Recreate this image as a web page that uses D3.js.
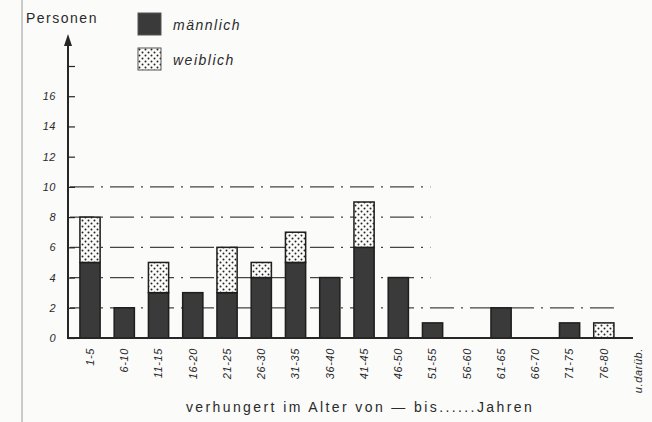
<!DOCTYPE html>
<html>
<head>
<meta charset="utf-8">
<script src="https://cdn.jsdelivr.net/npm/d3@7"></script>
<style>
  body { margin: 0; background: #fbfbfa; }
  svg { display: block; }
  text { fill: #2a2a2a; }
</style>
</head>
<body>
<div id="chart"></div>
<script>
// Altersgruppen
var categories = ["1-5", "6-10", "11-15", "16-20", "21-25", "26-30", "31-35", "36-40",
    "41-45", "46-50", "51-55", "56-60", "61-65", "66-70", "71-75", "76-80", "u.darüb."];
var maennlich = [5, 2, 3, 3, 3, 4, 5, 4, 6, 4, 1, 0, 2, 0, 1, 0, 0];
var weiblich  = [3, 0, 2, 0, 3, 1, 2, 0, 3, 0, 0, 0, 0, 0, 0, 1, 0];
var yTicks = [0, 2, 4, 6, 8, 10, 12, 14, 16, 18];
// gestrichelte Hilfslinien: Wert und Kategorie, bei der sie enden
var gridValues = [2, 4, 6, 8, 10];
var gridEnds   = ["76-80", "51-55", "51-55", "51-55", "51-55"];

var width = 652, height = 422;
var ink = "#262626";
var font = "Liberation Sans, Arial, sans-serif";

var svg = d3.select("#chart").append("svg")
    .attr("width", width)
    .attr("height", height);

// Punktmuster für weiblich
var defs = svg.append("defs");
var pat = defs.append("pattern")
    .attr("id", "dots")
    .attr("patternUnits", "userSpaceOnUse")
    .attr("width", 6).attr("height", 6);
pat.append("rect").attr("width", 6).attr("height", 6).attr("fill", "#fbfbfa");
pat.append("circle").attr("cx", 1.5).attr("cy", 1.5).attr("r", 1).attr("fill", ink);
pat.append("circle").attr("cx", 4.5).attr("cy", 4.5).attr("r", 1).attr("fill", ink);

var x = d3.scaleBand()
    .domain(categories)
    .range([72.9, 655.2])
    .paddingInner(0.41)
    .paddingOuter(0.205);

var y = d3.scaleLinear()
    .domain([0, 18])
    .range([338, 66]);

// Rand des Scans
svg.append("line")
    .attr("x1", 22).attr("x2", 22)
    .attr("y1", 0).attr("y2", height)
    .attr("stroke", "#9a9a9a").attr("stroke-width", 1);

// Hilfslinien
svg.append("g").selectAll("line")
    .data(gridValues)
    .enter().append("line")
    .attr("x1", 70)
    .attr("x2", function (d, i) {
        return gridEnds[i] === "76-80" ? x(gridEnds[i]) + x.bandwidth() : x(gridEnds[i]) + 8;
    })
    .attr("y1", function (d) {return y(d);})
    .attr("y2", function (d) {return y(d);})
    .attr("stroke", "#444")
    .attr("stroke-width", 1.3)
    .attr("stroke-dasharray", "24,7,2,7");

var rows = categories.map(function (c, i) {return {cat: c, m: maennlich[i], w: weiblich[i]};});

// männlich
svg.append("g").selectAll("rect")
    .data(rows.filter(function (d) {return d.m > 0;}))
    .enter().append("rect")
    .attr("x", function (d) {return x(d.cat);})
    .attr("y", function (d) {return y(d.m);})
    .attr("width", x.bandwidth())
    .attr("height", function (d) {return y(0) - y(d.m);})
    .attr("fill", "#3a3a3a")
    .attr("stroke", "#1e1e1e")
    .attr("stroke-width", 1.5);

// weiblich
svg.append("g").selectAll("rect")
    .data(rows.filter(function (d) {return d.w > 0;}))
    .enter().append("rect")
    .attr("x", function (d) {return x(d.cat);})
    .attr("y", function (d) {return y(d.m + d.w);})
    .attr("width", x.bandwidth())
    .attr("height", function (d) {return y(d.m) - y(d.m + d.w);})
    .attr("fill", "url(#dots)")
    .attr("stroke", "#1e1e1e")
    .attr("stroke-width", 1.5);

// y-Achse
var yAxis = svg.append("g")
    .attr("transform", "translate(68,0)")
    .call(d3.axisLeft(y)
        .tickValues(yTicks)
        .tickSizeInner(-7)
        .tickSizeOuter(0)
        .tickPadding(12)
        .tickFormat(function (d) {return d === 18 ? "" : d;}));
yAxis.select(".domain").remove();
yAxis.selectAll(".tick line").attr("stroke", ink).attr("stroke-width", 1.2);
yAxis.selectAll(".tick text")
    .style("font-family", font)
    .style("font-style", "italic")
    .style("font-size", "11px")
    .style("letter-spacing", "0.5px")
    .attr("fill", ink);

svg.append("line")
    .attr("x1", 68).attr("x2", 68)
    .attr("y1", y(0) + 1).attr("y2", 42)
    .attr("stroke", ink).attr("stroke-width", 2);
svg.append("path")
    .attr("d", "M68,34 L64,46 L72,46 Z")
    .attr("fill", ink);

// x-Achse
var xAxis = svg.append("g")
    .attr("transform", "translate(0," + y(0) + ")")
    .call(d3.axisBottom(x).tickSize(0).tickPadding(0));
xAxis.select(".domain").remove();
xAxis.selectAll(".tick text")
    .attr("transform", "rotate(-90)")
    .attr("x", -10)
    .attr("y", 0)
    .attr("dy", "0.35em")
    .attr("text-anchor", "end")
    .style("font-family", font)
    .style("font-style", "italic")
    .style("font-size", "11px")
    .style("letter-spacing", "0.6px")
    .attr("fill", ink);

svg.append("line")
    .attr("x1", 67).attr("x2", x("u.darüb.") + 5)
    .attr("y1", y(0)).attr("y2", y(0))
    .attr("stroke", ink).attr("stroke-width", 2);

// Beschriftungen
svg.append("text")
    .attr("x", 26).attr("y", 23)
    .style("font-family", font)
    .style("font-size", "14px")
    .style("letter-spacing", "1.5px")
    .text("Personen");

svg.append("text")
    .attr("x", 360).attr("y", 412)
    .attr("text-anchor", "middle")
    .style("font-family", font)
    .style("font-size", "14px")
    .style("letter-spacing", "2.4px")
    .text("verhungert im Alter von — bis......Jahren");

// Legende
var legend = [{label: "männlich", fill: "#3a3a3a", y: 13}, {label: "weiblich", fill: "url(#dots)", y: 48}];
var lg = svg.append("g").selectAll("g")
    .data(legend)
    .enter().append("g")
    .attr("transform", function (d) {return "translate(138," + d.y + ")";});
lg.append("rect")
    .attr("width", 23).attr("height", 22)
    .attr("fill", function (d) {return d.fill;})
    .attr("stroke", "#555").attr("stroke-width", 1);
lg.append("text")
    .attr("x", 35).attr("y", 17)
    .style("font-family", font)
    .style("font-style", "italic")
    .style("font-size", "14px")
    .style("letter-spacing", "1.5px")
    .text(function (d) {return d.label;});
</script>
</body>
</html>
